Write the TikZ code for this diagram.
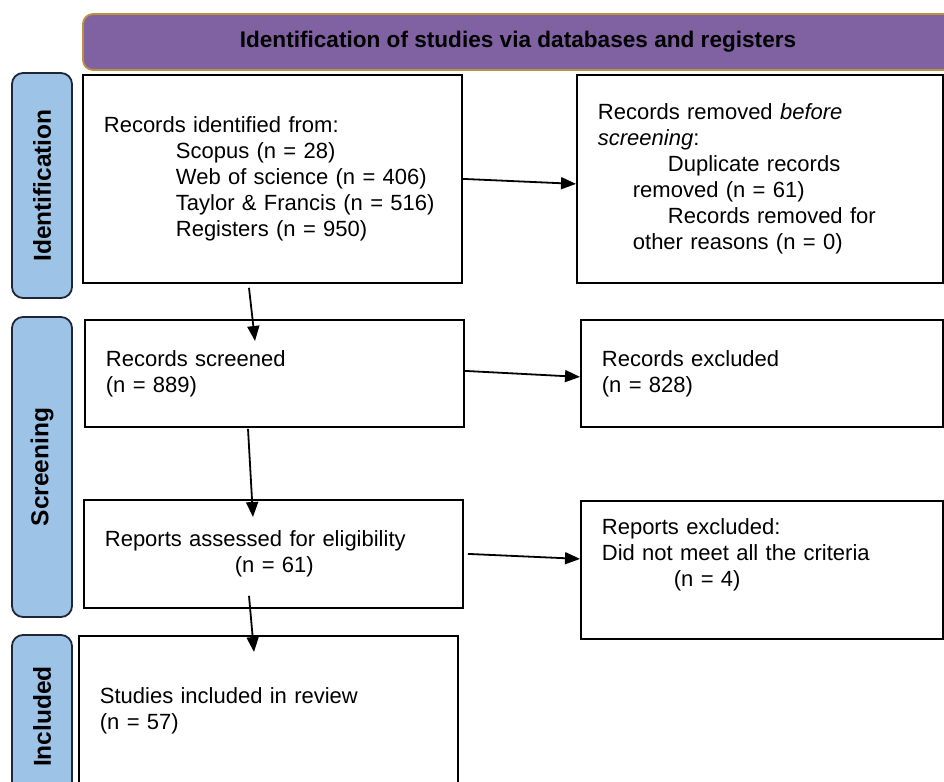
\documentclass[tikz,border=0pt]{standalone}
\usepackage{fontspec}
\setmainfont{Liberation Sans}
\usetikzlibrary{arrows.meta,calc}

\definecolor{bannerfill}{RGB}{128,97,162}
\definecolor{bannerline}{RGB}{190,145,60}
\definecolor{phasefill}{RGB}{157,195,230}
\definecolor{phaseline}{RGB}{30,38,55}

\tikzset{
  flowbox/.style={draw, line width=1.8pt, inner xsep=21pt, inner ysep=0pt,
    anchor=north west, align=left, font=\fontsize{22}{26}\selectfont},
  phasebar/.style={draw=phaseline, fill=phasefill, line width=1.8pt,
    rounded corners=11pt, rotate=90, minimum height=60pt, inner sep=2pt,
    font=\fontsize{24.5}{26}\selectfont\bfseries},
  flowarrow/.style={line width=1.8pt, -{Triangle[length=15pt,width=12pt]}}
}

\begin{document}
\begin{tikzpicture}[x=1pt,y=-1pt]
  \useasboundingbox (0,0) rectangle (944,781);
  \clip (0,0) rectangle (944,781);

  % header
  \node[draw=bannerline, fill=bannerfill, line width=1.8pt, rounded corners=10pt,
    minimum width=870pt, minimum height=56pt,
    font=\fontsize{22.6}{26}\selectfont\bfseries] (head) at (518,42)
    {Identification of studies via databases and registers};

  % phases
  \node[phasebar, minimum width=225pt] (idbar) at (42,185.5) {Identification};
  \node[phasebar, minimum width=300pt] (scbar) at (42,467) {Screening};
  \node[phasebar, minimum width=163pt] (inbar) at (42,716.5) {Included};

  % boxes
  \node[flowbox, minimum width=379pt, minimum height=208pt, text width=337pt] (ident) at (82,74)
    {Records identified from:\\
     \hspace*{72pt}Scopus (n = 28)\\
     \hspace*{72pt}Web of science (n = 406)\\
     \hspace*{72pt}Taylor \& Francis (n = 516)\\
     \hspace*{72pt}Registers (n = 950)};
  \node[flowbox, minimum width=366pt, minimum height=208pt, text width=324pt] (removed) at (576,74)
    {Records removed \textit{before}\\
     \textit{screening}:\\
     \hspace*{70pt}Duplicate records\\
     \hspace*{35pt}removed (n = 61)\\
     \hspace*{70pt}Records removed for\\
     \hspace*{35pt}other reasons (n = 0)};
  \node[flowbox, minimum width=379pt, minimum height=107pt, text width=337pt] (screened) at (84,319)
    {Records screened\\(n = 889)};
  \node[flowbox, minimum width=362pt, minimum height=107pt, text width=320pt] (excluded) at (580,319)
    {Records excluded\\(n = 828)};
  \node[flowbox, minimum width=379pt, minimum height=108pt, text width=337pt] (assessed) at (83,499)
    {Reports assessed for eligibility\\ \hspace*{130pt}(n = 61)};
  \node[flowbox, minimum width=362pt, minimum height=138pt, text width=320pt] (notmet) at (580,500)
    {Reports excluded:\\Did not meet all the criteria\\ \hspace*{72pt}(n = 4)\\ \strut};
  \node[flowbox, minimum width=379pt, minimum height=150pt, text width=337pt] (included) at (78,635)
    {Studies included in review\\(n = 57)};

  % arrows
  \draw[flowarrow] (ident.east) -- ($(removed.west)+(0,5)$);
  \draw[flowarrow] ($(screened.east)+(0,-2.5)$) -- ($(excluded.west)+(0,3.5)$);
  \draw[flowarrow] ($(assessed.east)+(4,0)$) -- ($(notmet.west)+(0,-11)$);
  \draw[flowarrow] ($(ident.south west)+(167,4)$) -- ($(screened.north west)+(171,22)$);
  \draw[flowarrow] ($(screened.south west)+(164,1)$) -- ($(assessed.north west)+(170,18)$);
  \draw[flowarrow] ($(assessed.south west)+(166,-13)$) -- ($(included.north west)+(176,17)$);
\end{tikzpicture}
\end{document}
